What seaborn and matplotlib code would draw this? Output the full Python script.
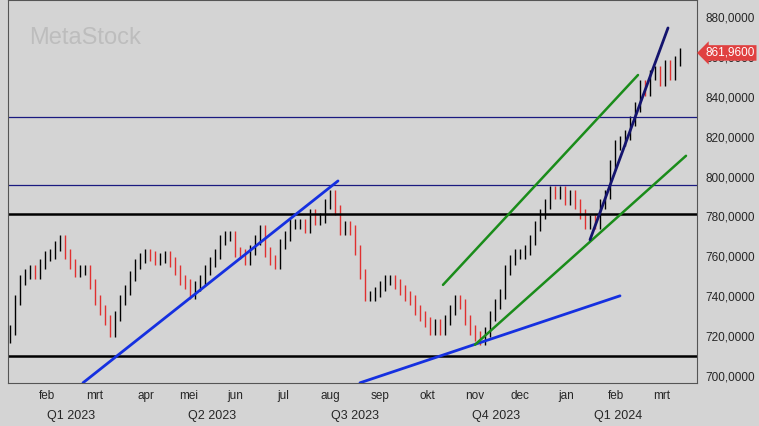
import matplotlib
matplotlib.use('Agg')
import matplotlib.pyplot as plt
import seaborn as sns
import numpy as np

# closes, roughly every second trading day, Jan 2023 - Mar 2024
closes = [723000, 738000, 748000, 751000, 753000, 751000, 756000, 760000, 761000, 765000, 768000,
          761000, 756000, 752000, 753000, 753000, 746000, 738000, 733000, 728000, 722000, 730000,
          738000, 743000, 750000, 756000, 759000, 761000, 760000, 758000, 759000, 760000, 757000,
          753000, 748000, 746000, 741000, 745000, 748000, 753000, 757000, 761000, 768000, 770000,
          770000, 762000, 761000, 758000, 763000, 768000, 773000, 762000, 758000, 756000, 766000,
          770000, 776000, 776000, 776000, 774000, 781000, 778000, 779000, 786000, 791000, 783000,
          773000, 775000, 773000, 763000, 751000, 740000, 740000, 742000, 745000, 748000, 748000,
          746000, 743000, 740000, 738000, 733000, 730000, 727000, 723000, 726000, 723000, 728000,
          733000, 738000, 736000, 728000, 723000, 720000, 718000, 722000, 730000, 736000, 741000,
          753000, 758000, 761000, 761000, 763000, 768000, 775000, 781000, 786000, 793000, 791000,
          793000, 788000, 791000, 786000, 781000, 776000, 778000, 776000, 786000, 791000, 806000,
          816000, 818000, 821000, 828000, 835000, 846000, 843000, 851000, 853000, 848000, 856000,
          851000, 858000, 861960]

month_labels = ['feb', 'mrt', 'apr', 'mei', 'jun', 'jul', 'aug', 'sep', 'okt', 'nov', 'dec', 'jan', 'feb', 'mrt']
month_pos = [7.4, 17, 27.2, 35.8, 45, 54.6, 64, 74, 83.4, 93, 102, 111.2, 121.2, 130.4]
quarter_labels = ['Q1 2023', 'Q2 2023', 'Q3 2023', 'Q4 2023', 'Q1 2024']
quarter_pos = [12.2, 40.4, 69, 97.2, 121.6]

hlines_black = [781300, 709800]
hlines_navy = [829900, 795800]
# trend lines: (x0, p0, x1, p1)
trend_blue = [(14.6, 696600, 65.6, 797800), (70, 696600, 122, 740200)]
trend_green = [(86.6, 745700, 125.6, 850900), (93, 715700, 135.2, 810400)]
trend_navy = [(116, 768300, 131.6, 874500)]

sns.set_style('white')
plt.rcParams['font.family'] = ['Liberation Sans', 'DejaVu Sans']

fig = plt.figure(figsize=(7.59, 4.26), dpi=100)
fig.patch.set_facecolor('#d4d4d4')
ax = fig.add_axes([8/759, 1-383/426, 689/759, 383/426])
ax.set_facecolor('#d4d4d4')

opens = [closes[0] - 4000] + closes[:-1]
for i, c in enumerate(closes):
    o = opens[i]
    col = 'black' if c >= o else '#e03030'
    ax.vlines(i, min(o, c) - 2500, max(o, c) + 2500, color=col, lw=1.0)

for h in hlines_black:
    ax.axhline(h, color='black', lw=1.8)
for h in hlines_navy:
    ax.axhline(h, color='#1a1a80', lw=0.9)
for x0, p0, x1, p1 in trend_blue:
    ax.plot([x0, x1], [p0, p1], color='#1530e0', lw=2)
for x0, p0, x1, p1 in trend_green:
    ax.plot([x0, x1], [p0, p1], color='#1a8c1a', lw=1.8)
for x0, p0, x1, p1 in trend_navy:
    ax.plot([x0, x1], [p0, p1], color='#14146e', lw=2)

ax.set_xlim(-0.4, 137.4)
ax.set_ylim(696500, 888500)
ax.yaxis.tick_right()
yt = np.arange(700000, 880001, 20000)
ax.set_yticks(yt)
ax.set_yticklabels([f'{v // 1000},0000' for v in yt], fontsize=8.5)
ax.tick_params(axis='y', length=0, pad=6)
ax.set_xticks(month_pos)
ax.set_xticklabels(month_labels, fontsize=8.5)
ax.tick_params(axis='x', length=0, pad=5)
for q, p in zip(quarter_labels, quarter_pos):
    ax.text(p, -0.085, q, transform=ax.get_xaxis_transform(), ha='center', va='center', fontsize=9)
for sp in ax.spines.values():
    sp.set_color('#555555')
    sp.set_linewidth(0.8)

ax.text(0.03, 0.9, 'MetaStock', transform=ax.transAxes, fontsize=17, color='#bdbdbd', va='center')

ax.annotate('861,9600', xy=(1.0, closes[-1]), xycoords=('axes fraction', 'data'),
            xytext=(6, 0), textcoords='offset points', va='center', ha='left',
            fontsize=8.5, color='white',
            bbox=dict(boxstyle='larrow,pad=0.15', fc='#e04040', ec='none'))

fig.savefig('out.png', dpi=100, facecolor=fig.get_facecolor())
